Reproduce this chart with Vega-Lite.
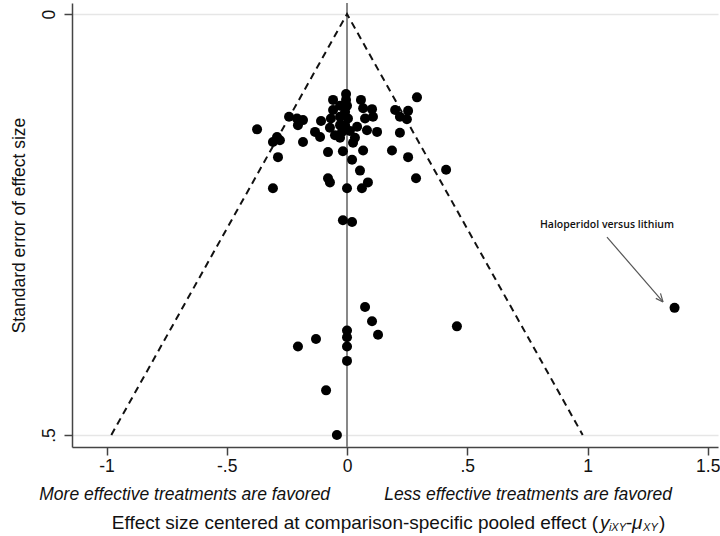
{
  "$schema": "https://vega.github.io/schema/vega-lite/v6.json",
  "autosize": "none",
  "width": 646,
  "height": 444,
  "padding": {"left": 72, "top": 3, "right": 2, "bottom": 89},
  "background": "white",
  "config": {"view": {"stroke": null}, "font": "Liberation Sans"},
  "datasets": {
    "pts": [
      {"es": -0.004, "se": 0.095}, {"es": -0.004, "se": 0.102}, {"es": 0.0, "se": 0.109}, {"es": -0.008, "se": 0.116},
      {"es": 0.004, "se": 0.124}, {"es": -0.008, "se": 0.132}, {"es": -0.058, "se": 0.102}, {"es": -0.029, "se": 0.109},
      {"es": -0.058, "se": 0.114}, {"es": 0.058, "se": 0.102}, {"es": 0.067, "se": 0.112}, {"es": 0.104, "se": 0.113},
      {"es": 0.075, "se": 0.124}, {"es": 0.108, "se": 0.122}, {"es": 0.2, "se": 0.114}, {"es": 0.254, "se": 0.115},
      {"es": 0.22, "se": 0.122}, {"es": 0.249, "se": 0.125}, {"es": 0.291, "se": 0.099}, {"es": -0.029, "se": 0.122},
      {"es": -0.067, "se": 0.124}, {"es": -0.029, "se": 0.132}, {"es": -0.108, "se": 0.127}, {"es": -0.241, "se": 0.122},
      {"es": -0.208, "se": 0.124}, {"es": -0.183, "se": 0.126}, {"es": -0.204, "se": 0.132}, {"es": -0.374, "se": 0.137},
      {"es": -0.133, "se": 0.14}, {"es": -0.112, "se": 0.146}, {"es": -0.071, "se": 0.135}, {"es": -0.05, "se": 0.144},
      {"es": -0.021, "se": 0.14}, {"es": 0.012, "se": 0.139}, {"es": 0.033, "se": 0.147}, {"es": -0.029, "se": 0.147},
      {"es": 0.042, "se": 0.134}, {"es": 0.083, "se": 0.138}, {"es": 0.125, "se": 0.14}, {"es": 0.22, "se": 0.141},
      {"es": -0.291, "se": 0.146}, {"es": -0.279, "se": 0.15}, {"es": -0.308, "se": 0.152}, {"es": -0.183, "se": 0.152},
      {"es": -0.287, "se": 0.17}, {"es": -0.079, "se": 0.164}, {"es": -0.017, "se": 0.163}, {"es": 0.025, "se": 0.153},
      {"es": 0.067, "se": 0.162}, {"es": 0.021, "se": 0.173}, {"es": 0.187, "se": 0.162}, {"es": 0.254, "se": 0.17},
      {"es": 0.054, "se": 0.186}, {"es": 0.412, "se": 0.185}, {"es": -0.079, "se": 0.195}, {"es": -0.071, "se": 0.2},
      {"es": 0.087, "se": 0.2}, {"es": 0.062, "se": 0.207}, {"es": 0.0, "se": 0.207}, {"es": 0.287, "se": 0.195},
      {"es": -0.308, "se": 0.207}, {"es": -0.017, "se": 0.245}, {"es": 0.021, "se": 0.247}, {"es": 0.075, "se": 0.348},
      {"es": 0.104, "se": 0.365}, {"es": 0.129, "se": 0.381}, {"es": 0.457, "se": 0.371}, {"es": 1.362, "se": 0.349},
      {"es": 0.0, "se": 0.376}, {"es": 0.0, "se": 0.384}, {"es": 0.0, "se": 0.395}, {"es": 0.0, "se": 0.412},
      {"es": -0.129, "se": 0.386}, {"es": -0.204, "se": 0.395}, {"es": -0.087, "se": 0.447}, {"es": -0.042, "se": 0.5}
    ],
    "funnel": [
      {"es": -0.98, "se": 0.5, "o": 1}, {"es": 0, "se": 0, "o": 2}, {"es": 0.98, "se": 0.5, "o": 3}
    ],
    "arrow": [
      {"es": 1.081, "se": 0.265, "es2": 1.314, "se2": 0.342},
      {"es": 1.3035, "se": 0.3318, "es2": 1.314, "se2": 0.342},
      {"es": 1.284, "se": 0.3378, "es2": 1.314, "se2": 0.342}
    ],
    "annot": [{"es": 1.081, "se": 0.2506, "label": "Haloperidol versus lithium"}],
    "italic": [
      {"es": -0.675, "se": 0.5713, "label": "More effective treatments are favored"},
      {"es": 0.753, "se": 0.5713, "label": "Less effective treatments are favored"}
    ],
    "titleMain": [
      {"es": 1.0437, "se": 0.6045, "label": "Effect size centered at comparison-specific  pooled effect ("}
    ],
    "titleNormal": [
      {"es": 1.16, "se": 0.6045, "label": "-"},
      {"es": 1.297, "se": 0.6045, "label": ")"}
    ],
    "titleItalic": [
      {"es": 1.052, "se": 0.6045, "label": "y"},
      {"es": 1.185, "se": 0.6045, "label": "μ"}
    ],
    "titleSub": [
      {"es": 1.089, "se": 0.6105, "label": "iXY"},
      {"es": 1.231, "se": 0.6105, "label": "XY"}
    ]
  },
  "layer": [
    {
      "data": {"name": "funnel"},
      "mark": {"type": "rule", "color": "#444", "strokeWidth": 0},
      "encoding": {
        "x": {"field": "es", "type": "quantitative", "scale": {"domain": [-1.1435, 1.5426], "nice": false, "zero": false},
          "axis": {"values": [-1, -0.5, 0, 0.5, 1, 1.5], "labelExpr": "datum.value == 0 ? '0' : replace(toString(datum.value), '0.', '.')",
            "title": null, "grid": false, "domainColor": "#444", "domainWidth": 1.5, "tickColor": "#444", "tickSize": 8, "tickWidth": 1.5,
            "labelFontSize": 17.5, "labelColor": "#111", "labelPadding": 2, "labelOverlap": false, "labelBound": false}},
        "y": {"field": "se", "type": "quantitative", "scale": {"domain": [-0.0131, 0.5143], "nice": false, "zero": false, "reverse": true},
          "axis": {"values": [0, 0.5], "labelExpr": "datum.value == 0 ? '0' : replace(toString(datum.value), '0.', '.')",
            "title": "Standard error of effect size", "titleFontSize": 17.5, "titleFontWeight": "normal", "titleColor": "#111", "titlePadding": 12,
            "grid": true, "gridColor": "#e6e6e6", "gridWidth": 1.5, "domainColor": "#444", "domainWidth": 1.5, "tickColor": "#444", "tickSize": 8, "tickWidth": 1.5,
            "labelAngle": 270, "labelAlign": "center", "labelBaseline": "bottom", "labelFontSize": 17.5, "labelColor": "#111", "labelPadding": 6}}
      }
    },
    {
      "mark": {"type": "rule", "color": "#888", "strokeWidth": 2},
      "data": {"values": [{"es": 0}]},
      "encoding": {"x": {"field": "es", "type": "quantitative"}}
    },
    {
      "data": {"name": "funnel"},
      "mark": {"type": "line", "color": "#111", "strokeWidth": 2, "strokeDash": [7, 5]},
      "encoding": {
        "x": {"field": "es", "type": "quantitative"},
        "y": {"field": "se", "type": "quantitative"},
        "order": {"field": "o"}
      }
    },
    {
      "data": {"name": "pts"},
      "mark": {"type": "circle", "color": "#000", "size": 100, "opacity": 1},
      "encoding": {
        "x": {"field": "es", "type": "quantitative"},
        "y": {"field": "se", "type": "quantitative"}
      }
    },
    {
      "data": {"name": "arrow"},
      "mark": {"type": "rule", "color": "#555", "strokeWidth": 1.2},
      "encoding": {
        "x": {"field": "es", "type": "quantitative"},
        "y": {"field": "se", "type": "quantitative"},
        "x2": {"field": "es2"},
        "y2": {"field": "se2"}
      }
    },
    {
      "data": {"name": "annot"},
      "mark": {"type": "text", "font": "Open Sans", "fontSize": 10.5, "fontWeight": 600, "color": "#111", "align": "center", "baseline": "middle"},
      "encoding": {
        "x": {"field": "es", "type": "quantitative"},
        "y": {"field": "se", "type": "quantitative"},
        "text": {"field": "label"}
      }
    },
    {
      "data": {"name": "italic"},
      "mark": {"type": "text", "fontSize": 17.5, "fontStyle": "italic", "color": "#111", "align": "center", "baseline": "middle"},
      "encoding": {
        "x": {"field": "es", "type": "quantitative"},
        "y": {"field": "se", "type": "quantitative"},
        "text": {"field": "label"}
      }
    },
    {
      "data": {"name": "titleMain"},
      "mark": {"type": "text", "fontSize": 19, "color": "#111", "align": "right", "baseline": "middle"},
      "encoding": {
        "x": {"field": "es", "type": "quantitative"},
        "y": {"field": "se", "type": "quantitative"},
        "text": {"field": "label"}
      }
    },
    {
      "data": {"name": "titleNormal"},
      "mark": {"type": "text", "fontSize": 19, "color": "#111", "align": "left", "baseline": "middle"},
      "encoding": {
        "x": {"field": "es", "type": "quantitative"},
        "y": {"field": "se", "type": "quantitative"},
        "text": {"field": "label"}
      }
    },
    {
      "data": {"name": "titleItalic"},
      "mark": {"type": "text", "fontSize": 19, "fontStyle": "italic", "color": "#111", "align": "left", "baseline": "middle"},
      "encoding": {
        "x": {"field": "es", "type": "quantitative"},
        "y": {"field": "se", "type": "quantitative"},
        "text": {"field": "label"}
      }
    },
    {
      "data": {"name": "titleSub"},
      "mark": {"type": "text", "fontSize": 11, "fontStyle": "italic", "color": "#111", "align": "left", "baseline": "middle"},
      "encoding": {
        "x": {"field": "es", "type": "quantitative"},
        "y": {"field": "se", "type": "quantitative"},
        "text": {"field": "label"}
      }
    }
  ]
}
